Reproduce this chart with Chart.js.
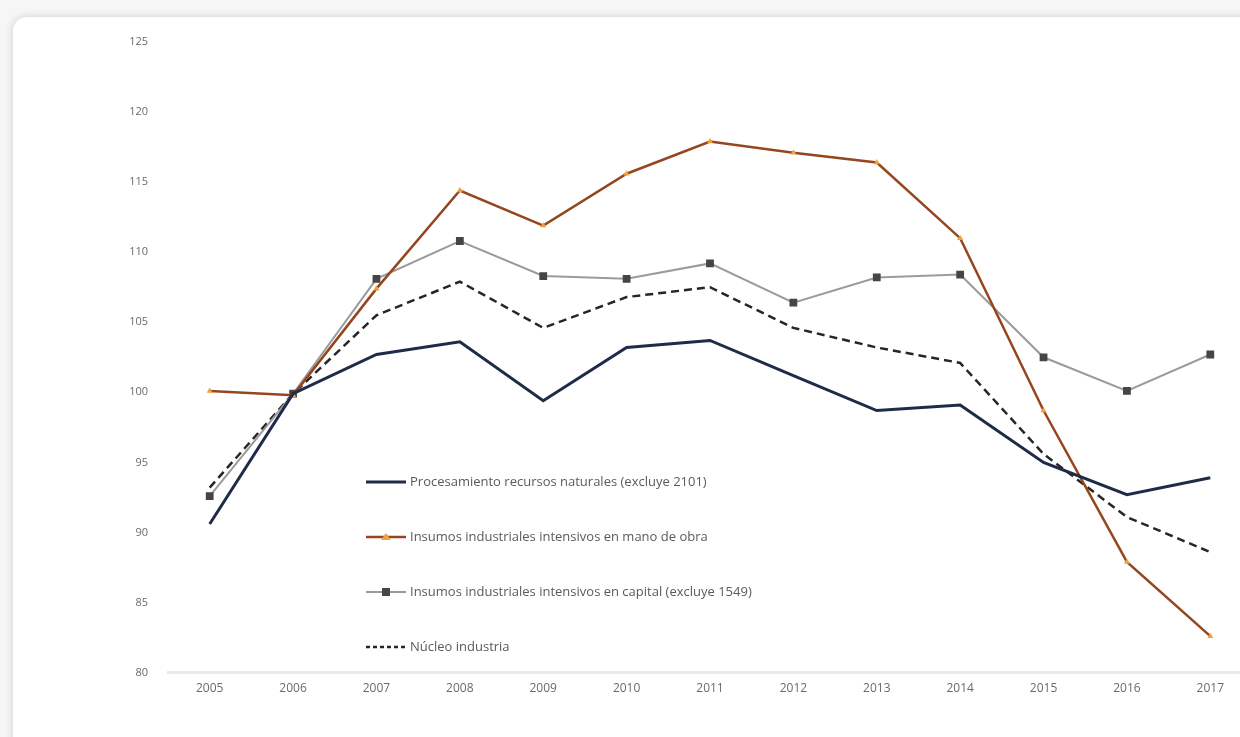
<!DOCTYPE html>
<html>
<head>
<meta charset="utf-8">
<title>Índices industria</title>
<script src="https://cdn.jsdelivr.net/npm/chart.js@4.4.0/dist/chart.umd.min.js"></script>
<style>
	html, body { margin: 0; padding: 0; width: 1240px; height: 737px; overflow: hidden; background: #f6f6f6; }
	#card { position: absolute; left: 13px; top: 17px; width: 1300px; height: 800px; background: #fff; border-radius: 14px; box-shadow: 0 0 9px rgba(0,0,0,0.16); }
	#wrap { position: absolute; left: 0; top: 0; width: 1280px; height: 737px; }
</style>
</head>
<body>
<div id="card"></div>
<div id="wrap"><canvas id="myChart"></canvas></div>
<script>
	const years = ['2005','2006','2007','2008','2009','2010','2011','2012','2013','2014','2015','2016','2017'];
	const procesamiento = [90.6, 99.9, 102.7, 103.6, 99.4, 103.2, 103.7, 101.2, 98.7, 99.1, 95.0, 92.7, 93.9];
	const manoObra = [100.1, 99.8, 107.4, 114.4, 111.9, 115.6, 117.9, 117.1, 116.4, 111.0, 98.7, 87.9, 82.6];
	const capital = [92.6, 99.9, 108.1, 110.8, 108.3, 108.1, 109.2, 106.4, 108.2, 108.4, 102.5, 100.1, 102.7];
	const nucleo = [93.2, 99.9, 105.5, 107.9, 104.6, 106.8, 107.5, 104.6, 103.2, 102.1, 95.6, 91.1, 88.6];
	const seriesNames = [
		'Procesamiento recursos naturales (excluye 2101)',
		'Insumos industriales intensivos en mano de obra',
		'Insumos industriales intensivos en capital (excluye 1549)',
		'Núcleo industria'
	];

	// legend drawn inside the plot, lower left
	const insideLegend = {
		id: 'insideLegend',
		afterDatasetsDraw(chart) {
			const ctx = chart.ctx;
			const x0 = 366, x1 = 406, tx = 410;
			const rows = [482, 537, 592, 647];
			chart.data.datasets.forEach(function (ds, i) {
				const y = rows[i];
				ctx.save();
				ctx.strokeStyle = ds.borderColor;
				ctx.lineWidth = ds.borderWidth;
				ctx.setLineDash(ds.borderDash ? [4, 3] : []);
				ctx.beginPath();
				ctx.moveTo(x0, y);
				ctx.lineTo(x1, y);
				ctx.stroke();
				ctx.setLineDash([]);
				if (ds.pointStyle === 'rect') {
					ctx.fillStyle = ds.pointBackgroundColor;
					ctx.fillRect(382, y - 4, 8, 8);
				} else if (ds.pointStyle === 'triangle') {
					ctx.fillStyle = ds.pointBackgroundColor;
					ctx.beginPath();
					ctx.moveTo(386, y - 4);
					ctx.lineTo(391, y + 3);
					ctx.lineTo(381, y + 3);
					ctx.closePath();
					ctx.fill();
				}
				ctx.fillStyle = '#5a5a5a';
				ctx.font = '13px "Open Sans"';
				ctx.textBaseline = 'middle';
				ctx.textAlign = 'left';
				ctx.fillText(ds.label, tx, y);
				ctx.restore();
			});
		}
	};

	let ctx = document.getElementById('myChart').getContext('2d');
	let myChart = new Chart(ctx, {
		type: 'line',
		data: {
			labels: years,
			datasets: [{
				label: seriesNames[0],
				data: procesamiento,
				borderColor: '#1e2b49',
				borderWidth: 3,
				pointRadius: 0
			}, {
				label: seriesNames[1],
				data: manoObra,
				borderColor: '#94461f',
				borderWidth: 2.5,
				pointStyle: 'triangle',
				pointRadius: 3.5,
				pointBackgroundColor: '#f2a03c',
				pointBorderColor: '#f2a03c',
				pointBorderWidth: 0
			}, {
				label: seriesNames[2],
				data: capital,
				borderColor: '#9b9b9b',
				borderWidth: 2,
				pointStyle: 'rect',
				pointRadius: 5.5,
				pointBackgroundColor: '#454545',
				pointBorderColor: '#454545',
				pointBorderWidth: 0
			}, {
				label: seriesNames[3],
				data: nucleo,
				borderColor: '#262626',
				borderWidth: 2.5,
				borderDash: [8, 5],
				pointRadius: 0
			}]
		},
		plugins: [insideLegend],
		options: {
			responsive: true,
			maintainAspectRatio: false,
			animation: false,
			layout: { padding: { left: 108, right: 28, top: 42, bottom: 32 } },
			plugins: {
				legend: { display: false },
				tooltip: { enabled: false }
			},
			elements: { line: { tension: 0 } },
			scales: {
				x: {
					offset: true,
					grid: { display: false, drawTicks: false },
					border: { display: true, color: '#e9e9e9', width: 3 },
					ticks: { color: '#6a6a6a', font: { family: 'Open Sans', size: 12 }, padding: 9, maxRotation: 0 }
				},
				y: {
					min: 80,
					max: 125,
					afterFit: function (s) { s.width = 60; },
					grid: { display: false, drawTicks: false },
					border: { display: false },
					ticks: { stepSize: 5, color: '#6a6a6a', font: { family: 'Open Sans', size: 11 }, padding: 20 }
				}
			}
		}
	});
</script>
</body>
</html>
